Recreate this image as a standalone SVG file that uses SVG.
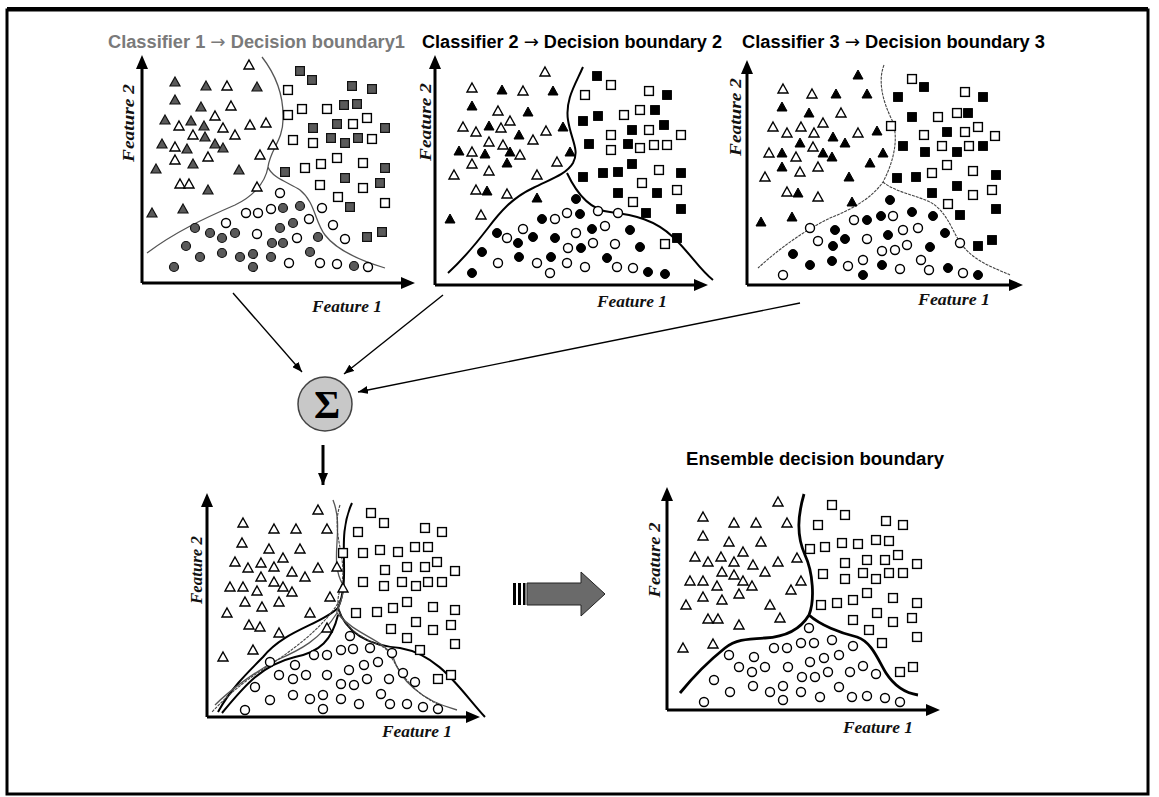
<svg xmlns="http://www.w3.org/2000/svg" xmlns:xlink="http://www.w3.org/1999/xlink" width="1159" height="797" viewBox="0 0 1159 797">
<style>
.title{font-family:"Liberation Sans",Arial,sans-serif;font-weight:bold;font-size:18px}
.arr{font-family:"DejaVu Sans",sans-serif;font-weight:normal}
.flab{font-family:"Liberation Serif","Times New Roman",serif;font-style:italic;font-weight:bold;font-size:17px;fill:#111}
.o{fill:#fff;stroke:#000;stroke-width:1.4}
.k{fill:#000;stroke:#000;stroke-width:1}
.g{fill:#5a5a5a;stroke:#111;stroke-width:1.2}
.axis{stroke:#000;stroke-width:3;fill:none}
.head{fill:#000}
.b1{fill:none;stroke:#555;stroke-width:1.3}
.b2{fill:none;stroke:#000;stroke-width:2}
.b3{fill:none;stroke:#444;stroke-width:1.1;stroke-dasharray:3 1}
.be{fill:none;stroke:#000;stroke-width:2.8}
.conn{stroke:#000;stroke-width:1.4;fill:none}
</style>
<defs>
<path id="T" d="M0,-5L5,4H-5Z"/>
<rect id="S" x="-4.4" y="-4.4" width="8.8" height="8.8"/>
<circle id="C" r="4.5"/>
<marker id="ah" viewBox="0 0 10 8" refX="10" refY="4" markerWidth="10" markerHeight="8" markerUnits="userSpaceOnUse" orient="auto"><path d="M0,0L10,4L0,8Z" fill="#000"/></marker>
<marker id="ahb" viewBox="0 0 12 10" refX="12" refY="5" markerWidth="12" markerHeight="10" markerUnits="userSpaceOnUse" orient="auto"><path d="M0,0L12,5L0,10Z" fill="#000"/></marker>
</defs>
<rect x="0" y="0" width="1159" height="797" fill="#fff"/>
<rect id="frame" x="7" y="10" width="1141" height="784" fill="none" stroke="#000" stroke-width="3"/>
<line x1="7" y1="9" x2="1148" y2="9" stroke="#000" stroke-width="4"/>

<g id="panel1">
<text class="title" x="108" y="48" fill="#7a7a7a" textLength="297" lengthAdjust="spacingAndGlyphs">Classifier 1 <tspan class="arr">→</tspan> Decision boundary1</text>
<path class="axis" d="M142,283V67M142,283H403"/>
<path class="head" d="M142,55L136,69H148ZM415,283L401,277V289Z"/>
<text class="flab" transform="translate(134,123) rotate(-90)" text-anchor="middle" textLength="78" lengthAdjust="spacingAndGlyphs">Feature 2</text>
<text class="flab" x="312" y="312" textLength="70" lengthAdjust="spacingAndGlyphs">Feature 1</text>
<path class="b1" d="M262,57C276,75 284,95 283,120C283,140 270,150 268,167C265,185 250,198 235,205C205,218 175,232 147,253M268,167C272,178 290,183 300,190C315,202 315,222 325,235C338,252 365,262 385,268"/>
<g class="o">
<use href="#T" x="249" y="65"/><use href="#T" x="227" y="86"/><use href="#T" x="231" y="106"/><use href="#T" x="215" y="116"/><use href="#T" x="179" y="126"/><use href="#T" x="223" y="128"/><use href="#T" x="250" y="125"/><use href="#T" x="266" y="123"/><use href="#T" x="193" y="135"/><use href="#T" x="235" y="135"/><use href="#T" x="175" y="147"/><use href="#T" x="208" y="157"/><use href="#T" x="260" y="155"/><use href="#T" x="273" y="145"/><use href="#T" x="175" y="160"/><use href="#T" x="180" y="184"/><use href="#T" x="189" y="184"/><use href="#T" x="257" y="187"/>
<use href="#S" x="288" y="90"/><use href="#S" x="302" y="109"/><use href="#S" x="327" y="109"/><use href="#S" x="288" y="115"/><use href="#S" x="353" y="124"/><use href="#S" x="367" y="118"/><use href="#S" x="293" y="140"/><use href="#S" x="313" y="143"/><use href="#S" x="372" y="139"/><use href="#S" x="305" y="168"/><use href="#S" x="321" y="164"/><use href="#S" x="337" y="158"/><use href="#S" x="363" y="163"/><use href="#S" x="320" y="185"/><use href="#S" x="363" y="188"/><use href="#S" x="338" y="197"/><use href="#S" x="385" y="203"/>
<use href="#C" x="280" y="193"/><use href="#C" x="246" y="213"/><use href="#C" x="258" y="213"/><use href="#C" x="271" y="209"/><use href="#C" x="322" y="208"/><use href="#C" x="309" y="219"/><use href="#C" x="333" y="225"/><use href="#C" x="226" y="223"/><use href="#C" x="257" y="234"/><use href="#C" x="297" y="238"/><use href="#C" x="345" y="239"/><use href="#C" x="289" y="263"/><use href="#C" x="320" y="263"/><use href="#C" x="337" y="264"/><use href="#C" x="368" y="267"/>
</g>
<g class="g">
<use href="#T" x="175" y="82"/><use href="#T" x="206" y="86"/><use href="#T" x="257" y="87"/><use href="#T" x="175" y="100"/><use href="#T" x="201" y="107"/><use href="#T" x="165" y="120"/><use href="#T" x="191" y="121"/><use href="#T" x="204" y="126"/><use href="#T" x="205" y="137"/><use href="#T" x="215" y="144"/><use href="#T" x="223" y="148"/><use href="#T" x="162" y="144"/><use href="#T" x="187" y="149"/><use href="#T" x="193" y="164"/><use href="#T" x="156" y="169"/><use href="#T" x="239" y="170"/><use href="#T" x="208" y="190"/><use href="#T" x="152" y="213"/><use href="#T" x="183" y="209"/>
<use href="#S" x="300" y="71"/><use href="#S" x="312" y="80"/><use href="#S" x="352" y="86"/><use href="#S" x="372" y="89"/><use href="#S" x="344" y="105"/><use href="#S" x="357" y="104"/><use href="#S" x="313" y="128"/><use href="#S" x="337" y="124"/><use href="#S" x="385" y="128"/><use href="#S" x="331" y="138"/><use href="#S" x="345" y="143"/><use href="#S" x="358" y="138"/><use href="#S" x="285" y="172"/><use href="#S" x="385" y="168"/><use href="#S" x="345" y="178"/><use href="#S" x="380" y="183"/><use href="#S" x="350" y="207"/><use href="#S" x="367" y="237"/><use href="#S" x="382" y="232"/>
<use href="#C" x="283" y="208"/><use href="#C" x="300" y="206"/><use href="#C" x="293" y="223"/><use href="#C" x="280" y="228"/><use href="#C" x="195" y="228"/><use href="#C" x="210" y="233"/><use href="#C" x="222" y="238"/><use href="#C" x="235" y="233"/><use href="#C" x="272" y="243"/><use href="#C" x="283" y="243"/><use href="#C" x="318" y="237"/><use href="#C" x="186" y="246"/><use href="#C" x="200" y="257"/><use href="#C" x="222" y="253"/><use href="#C" x="240" y="257"/><use href="#C" x="253" y="254"/><use href="#C" x="253" y="267"/><use href="#C" x="271" y="257"/><use href="#C" x="310" y="252"/><use href="#C" x="354" y="266"/><use href="#C" x="174" y="267"/>
</g>
</g>

<g id="panel2">
<text class="title" x="422" y="48" fill="#000" textLength="300" lengthAdjust="spacingAndGlyphs">Classifier 2 <tspan class="arr">→</tspan> Decision boundary 2</text>
<path class="axis" d="M435,285V67M435,285H696"/>
<path class="head" d="M435,55L429,69H441ZM708,285L694,279V291Z"/>
<text class="flab" transform="translate(431,122) rotate(-90)" text-anchor="middle" textLength="78" lengthAdjust="spacingAndGlyphs">Feature 2</text>
<text class="flab" x="597" y="307" textLength="70" lengthAdjust="spacingAndGlyphs">Feature 1</text>
<path class="b2" d="M583,67C575,85 565,100 568,120C571,140 580,150 573,163C566,175 548,180 533,188C512,198 500,212 488,228C475,245 460,262 448,273M567,173C575,190 588,210 610,212C635,215 655,220 673,237C690,253 700,270 713,280"/>
<g class="o">
<use href="#T" x="545" y="72"/><use href="#T" x="472" y="88"/><use href="#T" x="523" y="91"/><use href="#T" x="498" y="111"/><use href="#T" x="510" y="121"/><use href="#T" x="463" y="127"/><use href="#T" x="476" y="132"/><use href="#T" x="501" y="128"/><use href="#T" x="533" y="140"/><use href="#T" x="546" y="131"/><use href="#T" x="489" y="142"/><use href="#T" x="503" y="145"/><use href="#T" x="520" y="155"/><use href="#T" x="472" y="152"/><use href="#T" x="557" y="162"/><use href="#T" x="472" y="164"/><use href="#T" x="489" y="171"/><use href="#T" x="454" y="175"/><use href="#T" x="537" y="175"/><use href="#T" x="476" y="190"/><use href="#T" x="507" y="194"/><use href="#T" x="481" y="215"/>
<use href="#S" x="611" y="85"/><use href="#S" x="585" y="95"/><use href="#S" x="649" y="91"/><use href="#S" x="640" y="110"/><use href="#S" x="624" y="115"/><use href="#S" x="649" y="130"/><use href="#S" x="681" y="135"/><use href="#S" x="611" y="135"/><use href="#S" x="611" y="150"/><use href="#S" x="640" y="148"/><use href="#S" x="654" y="145"/><use href="#S" x="667" y="145"/><use href="#S" x="659" y="170"/><use href="#S" x="642" y="183"/><use href="#S" x="677" y="190"/><use href="#S" x="633" y="202"/><use href="#S" x="665" y="244"/>
<use href="#C" x="567" y="213"/><use href="#C" x="598" y="211"/><use href="#C" x="618" y="213"/><use href="#C" x="555" y="219"/><use href="#C" x="523" y="229"/><use href="#C" x="605" y="226"/><use href="#C" x="507" y="238"/><use href="#C" x="576" y="233"/><use href="#C" x="593" y="243"/><use href="#C" x="615" y="244"/><use href="#C" x="568" y="248"/><use href="#C" x="498" y="263"/><use href="#C" x="537" y="263"/><use href="#C" x="550" y="273"/><use href="#C" x="567" y="263"/><use href="#C" x="585" y="267"/><use href="#C" x="617" y="267"/><use href="#C" x="633" y="268"/>
</g>
<g class="k">
<use href="#T" x="502" y="90"/><use href="#T" x="553" y="91"/><use href="#T" x="472" y="106"/><use href="#T" x="528" y="112"/><use href="#T" x="489" y="126"/><use href="#T" x="519" y="135"/><use href="#T" x="563" y="127"/><use href="#T" x="510" y="152"/><use href="#T" x="459" y="151"/><use href="#T" x="485" y="154"/><use href="#T" x="570" y="152"/><use href="#T" x="507" y="163"/><use href="#T" x="487" y="191"/><use href="#T" x="537" y="198"/><use href="#T" x="450" y="219"/>
<use href="#S" x="597" y="76"/><use href="#S" x="667" y="95"/><use href="#S" x="655" y="110"/><use href="#S" x="583" y="121"/><use href="#S" x="598" y="116"/><use href="#S" x="664" y="125"/><use href="#S" x="632" y="130"/><use href="#S" x="589" y="144"/><use href="#S" x="628" y="144"/><use href="#S" x="632" y="164"/><use href="#S" x="583" y="177"/><use href="#S" x="603" y="173"/><use href="#S" x="618" y="172"/><use href="#S" x="681" y="173"/><use href="#S" x="618" y="193"/><use href="#S" x="657" y="193"/><use href="#S" x="646" y="213"/><use href="#S" x="681" y="209"/><use href="#S" x="677" y="238"/>
<use href="#C" x="576" y="199"/><use href="#C" x="580" y="214"/><use href="#C" x="542" y="219"/><use href="#C" x="592" y="229"/><use href="#C" x="630" y="230"/><use href="#C" x="497" y="233"/><use href="#C" x="518" y="243"/><use href="#C" x="533" y="237"/><use href="#C" x="555" y="238"/><use href="#C" x="581" y="248"/><use href="#C" x="640" y="247"/><use href="#C" x="482" y="252"/><use href="#C" x="519" y="257"/><use href="#C" x="551" y="257"/><use href="#C" x="607" y="258"/><use href="#C" x="648" y="272"/><use href="#C" x="665" y="274"/><use href="#C" x="472" y="273"/>
</g>
</g>

<g id="panel3">
<text class="title" x="742" y="48" fill="#000" textLength="303" lengthAdjust="spacingAndGlyphs">Classifier 3 <tspan class="arr">→</tspan> Decision boundary 3</text>
<path class="axis" d="M747,285V72M747,285H1011"/>
<path class="head" d="M747,60L741,74H753ZM1023,285L1009,279V291Z"/>
<text class="flab" transform="translate(741,117) rotate(-90)" text-anchor="middle" textLength="78" lengthAdjust="spacingAndGlyphs">Feature 2</text>
<text class="flab" x="918" y="305" textLength="72" lengthAdjust="spacingAndGlyphs">Feature 1</text>
<path class="b3" d="M884,65C878,80 882,100 892,120C900,140 892,165 883,182C870,200 850,210 830,218C805,230 780,248 758,268M883,182C895,192 915,195 930,202C948,212 952,232 962,245C975,262 995,268 1010,275"/>
<g class="o">
<use href="#T" x="783" y="89"/><use href="#T" x="812" y="94"/><use href="#T" x="841" y="113"/><use href="#T" x="773" y="127"/><use href="#T" x="787" y="133"/><use href="#T" x="801" y="127"/><use href="#T" x="814" y="133"/><use href="#T" x="823" y="123"/><use href="#T" x="858" y="133"/><use href="#T" x="813" y="147"/><use href="#T" x="769" y="153"/><use href="#T" x="796" y="157"/><use href="#T" x="800" y="172"/><use href="#T" x="818" y="167"/><use href="#T" x="765" y="177"/><use href="#T" x="787" y="192"/><use href="#T" x="818" y="197"/>
<use href="#S" x="912" y="79"/><use href="#S" x="965" y="92"/><use href="#S" x="957" y="113"/><use href="#S" x="938" y="117"/><use href="#S" x="891" y="126"/><use href="#S" x="978" y="127"/><use href="#S" x="965" y="132"/><use href="#S" x="924" y="135"/><use href="#S" x="995" y="136"/><use href="#S" x="942" y="146"/><use href="#S" x="969" y="146"/><use href="#S" x="947" y="165"/><use href="#S" x="973" y="171"/><use href="#S" x="932" y="173"/><use href="#S" x="992" y="190"/><use href="#S" x="973" y="195"/><use href="#S" x="948" y="204"/>
<use href="#C" x="854" y="220"/><use href="#C" x="893" y="216"/><use href="#C" x="810" y="228"/><use href="#C" x="818" y="241"/><use href="#C" x="867" y="239"/><use href="#C" x="903" y="230"/><use href="#C" x="918" y="228"/><use href="#C" x="960" y="243"/><use href="#C" x="895" y="250"/><use href="#C" x="907" y="245"/><use href="#C" x="882" y="251"/><use href="#C" x="848" y="266"/><use href="#C" x="863" y="260"/><use href="#C" x="900" y="269"/><use href="#C" x="921" y="260"/><use href="#C" x="929" y="270"/><use href="#C" x="963" y="273"/><use href="#C" x="783" y="275"/>
</g>
<g class="k">
<use href="#T" x="858" y="75"/><use href="#T" x="836" y="94"/><use href="#T" x="867" y="94"/><use href="#T" x="782" y="107"/><use href="#T" x="809" y="113"/><use href="#T" x="833" y="137"/><use href="#T" x="877" y="131"/><use href="#T" x="800" y="143"/><use href="#T" x="823" y="153"/><use href="#T" x="845" y="143"/><use href="#T" x="782" y="153"/><use href="#T" x="832" y="157"/><use href="#T" x="883" y="153"/><use href="#T" x="870" y="163"/><use href="#T" x="782" y="167"/><use href="#T" x="849" y="177"/><use href="#T" x="798" y="193"/><use href="#T" x="852" y="202"/><use href="#T" x="792" y="217"/><use href="#T" x="761" y="222"/>
<use href="#S" x="924" y="87"/><use href="#S" x="983" y="97"/><use href="#S" x="898" y="97"/><use href="#S" x="968" y="113"/><use href="#S" x="912" y="117"/><use href="#S" x="947" y="132"/><use href="#S" x="903" y="146"/><use href="#S" x="925" y="152"/><use href="#S" x="957" y="152"/><use href="#S" x="983" y="146"/><use href="#S" x="897" y="178"/><use href="#S" x="916" y="177"/><use href="#S" x="996" y="175"/><use href="#S" x="957" y="186"/><use href="#S" x="932" y="193"/><use href="#S" x="996" y="209"/><use href="#S" x="960" y="215"/><use href="#S" x="978" y="246"/><use href="#S" x="992" y="240"/>
<use href="#C" x="890" y="200"/><use href="#C" x="867" y="220"/><use href="#C" x="881" y="216"/><use href="#C" x="912" y="212"/><use href="#C" x="933" y="216"/><use href="#C" x="835" y="230"/><use href="#C" x="845" y="239"/><use href="#C" x="833" y="246"/><use href="#C" x="888" y="235"/><use href="#C" x="945" y="233"/><use href="#C" x="793" y="254"/><use href="#C" x="930" y="247"/><use href="#C" x="810" y="265"/><use href="#C" x="832" y="261"/><use href="#C" x="863" y="275"/><use href="#C" x="882" y="265"/><use href="#C" x="948" y="268"/><use href="#C" x="978" y="275"/>
</g>
</g>

<g id="sum">
<circle cx="325" cy="404" r="27" fill="#c8c8c8" stroke="#444" stroke-width="1.5"/>
<text x="327" y="418" text-anchor="middle" font-family="Liberation Serif, Times New Roman, serif" font-weight="bold" font-size="40" fill="#000">Σ</text>
</g>

<g id="combined">
<path class="axis" d="M207,717V505M207,717H468"/>
<path class="head" d="M207,493L201,507H213ZM480,717L466,711V723Z"/>
<text class="flab" transform="translate(202,570) rotate(-90)" text-anchor="middle" textLength="68" lengthAdjust="spacingAndGlyphs">Feature 2</text>
<text class="flab" x="382" y="737" textLength="70" lengthAdjust="spacingAndGlyphs">Feature 1</text>
<path class="b2" d="M352,503C335,540 352,575 338,608C320,625 285,630 263,657C245,675 230,690 218,712M338,608C345,630 365,645 400,648C440,655 460,690 485,717"/>
<path class="b1" d="M333,500C345,530 328,560 343,585C345,600 335,610 337,613C320,640 300,650 277,660C255,672 230,690 215,705M337,613C355,635 385,640 393,657C400,680 420,700 457,710"/>
<path class="b3" d="M340,505C330,535 350,560 340,590C335,605 340,615 345,622C360,640 375,642 385,648C395,660 405,690 440,705M340,600C325,625 300,645 270,665C245,680 228,695 212,712"/>
<path class="b2" d="M222,713C245,685 262,665 295,657C320,652 332,640 338,615"/>
<g class="o">
<use href="#T" x="318" y="510"/><use href="#T" x="243" y="523"/><use href="#T" x="274" y="529"/><use href="#T" x="296" y="529"/><use href="#T" x="327" y="529"/><use href="#T" x="242" y="543"/><use href="#T" x="269" y="549"/><use href="#T" x="300" y="549"/><use href="#T" x="283" y="558"/><use href="#T" x="235" y="562"/><use href="#T" x="248" y="568"/><use href="#T" x="261" y="563"/><use href="#T" x="274" y="567"/><use href="#T" x="292" y="572"/><use href="#T" x="261" y="577"/><use href="#T" x="274" y="582"/><use href="#T" x="283" y="587"/><use href="#T" x="292" y="592"/><use href="#T" x="305" y="577"/><use href="#T" x="318" y="568"/><use href="#T" x="337" y="567"/><use href="#T" x="230" y="587"/><use href="#T" x="243" y="587"/><use href="#T" x="257" y="591"/><use href="#T" x="245" y="602"/><use href="#T" x="262" y="607"/><use href="#T" x="279" y="602"/><use href="#T" x="227" y="613"/><use href="#T" x="330" y="597"/><use href="#T" x="310" y="613"/><use href="#T" x="343" y="588"/><use href="#T" x="249" y="625"/><use href="#T" x="260" y="627"/><use href="#T" x="279" y="633"/><use href="#T" x="327" y="628"/><use href="#T" x="223" y="657"/><use href="#T" x="253" y="650"/>
<use href="#S" x="371" y="513"/><use href="#S" x="384" y="523"/><use href="#S" x="358" y="532"/><use href="#S" x="425" y="528"/><use href="#S" x="442" y="532"/><use href="#S" x="343" y="553"/><use href="#S" x="363" y="553"/><use href="#S" x="380" y="550"/><use href="#S" x="398" y="552"/><use href="#S" x="415" y="547"/><use href="#S" x="428" y="547"/><use href="#S" x="437" y="562"/><use href="#S" x="385" y="570"/><use href="#S" x="407" y="567"/><use href="#S" x="425" y="567"/><use href="#S" x="455" y="571"/><use href="#S" x="363" y="582"/><use href="#S" x="384" y="586"/><use href="#S" x="402" y="582"/><use href="#S" x="416" y="586"/><use href="#S" x="428" y="582"/><use href="#S" x="442" y="582"/><use href="#S" x="407" y="602"/><use href="#S" x="433" y="607"/><use href="#S" x="455" y="610"/><use href="#S" x="356" y="613"/><use href="#S" x="377" y="612"/><use href="#S" x="393" y="608"/><use href="#S" x="416" y="622"/><use href="#S" x="451" y="625"/><use href="#S" x="391" y="629"/><use href="#S" x="433" y="630"/><use href="#S" x="407" y="638"/><use href="#S" x="455" y="644"/><use href="#S" x="420" y="650"/><use href="#S" x="438" y="679"/><use href="#S" x="451" y="675"/>
<use href="#C" x="350" y="636"/><use href="#C" x="270" y="662"/><use href="#C" x="314" y="655"/><use href="#C" x="327" y="655"/><use href="#C" x="341" y="650"/><use href="#C" x="353" y="649"/><use href="#C" x="370" y="648"/><use href="#C" x="392" y="653"/><use href="#C" x="295" y="665"/><use href="#C" x="279" y="675"/><use href="#C" x="293" y="679"/><use href="#C" x="306" y="675"/><use href="#C" x="327" y="675"/><use href="#C" x="349" y="670"/><use href="#C" x="364" y="665"/><use href="#C" x="378" y="662"/><use href="#C" x="403" y="673"/><use href="#C" x="341" y="684"/><use href="#C" x="354" y="685"/><use href="#C" x="367" y="679"/><use href="#C" x="389" y="679"/><use href="#C" x="415" y="682"/><use href="#C" x="255" y="687"/><use href="#C" x="270" y="700"/><use href="#C" x="293" y="695"/><use href="#C" x="310" y="699"/><use href="#C" x="323" y="695"/><use href="#C" x="323" y="709"/><use href="#C" x="341" y="699"/><use href="#C" x="359" y="704"/><use href="#C" x="381" y="694"/><use href="#C" x="390" y="704"/><use href="#C" x="407" y="704"/><use href="#C" x="423" y="707"/><use href="#C" x="438" y="709"/><use href="#C" x="245" y="710"/>
</g>
</g>

<g id="bigArrow">
<rect x="513" y="583" width="3" height="22" fill="#000"/>
<rect x="518" y="583" width="3" height="22" fill="#000"/>
<rect x="523" y="583" width="2.5" height="22" fill="#000"/>
<path d="M527,583H581V572L605,594L581,616V605H527Z" fill="#6a6a6a" stroke="#222" stroke-width="1"/>
</g>

<g id="ensemble">
<text class="title" x="686" y="465" fill="#000" textLength="258" lengthAdjust="spacingAndGlyphs">Ensemble decision boundary</text>
<path class="axis" d="M667,710V499M667,710H928"/>
<path class="head" d="M667,487L661,501H673ZM940,710L926,704V716Z"/>
<text class="flab" transform="translate(660,560) rotate(-90)" text-anchor="middle" textLength="75" lengthAdjust="spacingAndGlyphs">Feature 2</text>
<text class="flab" x="843" y="733" textLength="70" lengthAdjust="spacingAndGlyphs">Feature 1</text>
<path class="be" d="M804,494C798,515 796,535 805,555C813,572 815,600 809,615C800,630 785,637 765,638C745,639 735,640 725,648C710,660 693,677 680,693M809,615C820,625 840,633 857,637C872,642 878,660 886,673C895,687 905,693 918,695"/>
<g class="o">
<use href="#T" x="778" y="502"/><use href="#T" x="703" y="517"/><use href="#T" x="734" y="523"/><use href="#T" x="756" y="523"/><use href="#T" x="787" y="523"/><use href="#T" x="703" y="536"/><use href="#T" x="729" y="542"/><use href="#T" x="761" y="542"/><use href="#T" x="743" y="552"/><use href="#T" x="695" y="557"/><use href="#T" x="708" y="562"/><use href="#T" x="721" y="557"/><use href="#T" x="734" y="562"/><use href="#T" x="753" y="565"/><use href="#T" x="765" y="572"/><use href="#T" x="778" y="562"/><use href="#T" x="797" y="558"/><use href="#T" x="722" y="572"/><use href="#T" x="734" y="575"/><use href="#T" x="743" y="581"/><use href="#T" x="752" y="586"/><use href="#T" x="690" y="581"/><use href="#T" x="703" y="581"/><use href="#T" x="717" y="586"/><use href="#T" x="801" y="581"/><use href="#T" x="791" y="590"/><use href="#T" x="703" y="597"/><use href="#T" x="722" y="600"/><use href="#T" x="739" y="594"/><use href="#T" x="686" y="605"/><use href="#T" x="770" y="605"/><use href="#T" x="708" y="619"/><use href="#T" x="718" y="619"/><use href="#T" x="739" y="625"/><use href="#T" x="780" y="618"/><use href="#T" x="713" y="644"/><use href="#T" x="683" y="648"/>
<use href="#S" x="832" y="505"/><use href="#S" x="845" y="515"/><use href="#S" x="818" y="525"/><use href="#S" x="886" y="521"/><use href="#S" x="903" y="525"/><use href="#S" x="810" y="549"/><use href="#S" x="825" y="547"/><use href="#S" x="842" y="543"/><use href="#S" x="858" y="544"/><use href="#S" x="876" y="540"/><use href="#S" x="889" y="541"/><use href="#S" x="845" y="563"/><use href="#S" x="867" y="560"/><use href="#S" x="885" y="560"/><use href="#S" x="898" y="555"/><use href="#S" x="917" y="564"/><use href="#S" x="823" y="574"/><use href="#S" x="845" y="579"/><use href="#S" x="863" y="573"/><use href="#S" x="876" y="579"/><use href="#S" x="889" y="573"/><use href="#S" x="903" y="573"/><use href="#S" x="821" y="605"/><use href="#S" x="837" y="603"/><use href="#S" x="853" y="600"/><use href="#S" x="867" y="593"/><use href="#S" x="893" y="598"/><use href="#S" x="917" y="603"/><use href="#S" x="877" y="613"/><use href="#S" x="853" y="620"/><use href="#S" x="893" y="622"/><use href="#S" x="912" y="618"/><use href="#S" x="869" y="630"/><use href="#S" x="917" y="637"/><use href="#S" x="882" y="643"/><use href="#S" x="900" y="672"/><use href="#S" x="913" y="667"/>
<use href="#C" x="809" y="628"/><use href="#C" x="774" y="648"/><use href="#C" x="787" y="648"/><use href="#C" x="801" y="643"/><use href="#C" x="814" y="643"/><use href="#C" x="832" y="640"/><use href="#C" x="853" y="646"/><use href="#C" x="729" y="655"/><use href="#C" x="754" y="657"/><use href="#C" x="839" y="655"/><use href="#C" x="824" y="658"/><use href="#C" x="810" y="662"/><use href="#C" x="739" y="667"/><use href="#C" x="752" y="672"/><use href="#C" x="765" y="667"/><use href="#C" x="788" y="667"/><use href="#C" x="828" y="672"/><use href="#C" x="850" y="672"/><use href="#C" x="863" y="666"/><use href="#C" x="876" y="674"/><use href="#C" x="802" y="677"/><use href="#C" x="815" y="677"/><use href="#C" x="714" y="680"/><use href="#C" x="753" y="686"/><use href="#C" x="783" y="686"/><use href="#C" x="839" y="687"/><use href="#C" x="730" y="692"/><use href="#C" x="770" y="692"/><use href="#C" x="801" y="692"/><use href="#C" x="783" y="700"/><use href="#C" x="820" y="697"/><use href="#C" x="852" y="697"/><use href="#C" x="867" y="696"/><use href="#C" x="885" y="698"/><use href="#C" x="900" y="702"/><use href="#C" x="704" y="702"/>
</g>
</g>

<g id="connectors">
<line class="conn" x1="233" y1="293" x2="302" y2="372" marker-end="url(#ah)"/>
<line class="conn" x1="443" y1="295" x2="344" y2="374" marker-end="url(#ah)"/>
<line class="conn" x1="800" y1="303" x2="358" y2="392" marker-end="url(#ah)"/>
<line x1="323" y1="445" x2="323" y2="485" stroke="#000" stroke-width="3" marker-end="url(#ahb)"/>
</g>
</svg>
